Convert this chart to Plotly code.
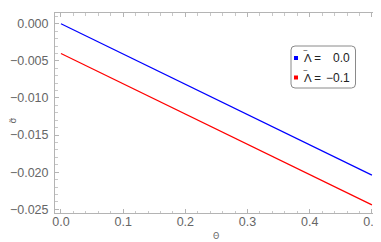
import plotly.graph_objects as go

theta = [0.0, 0.5]
sigma_l0 = [0.0, -0.0204]
sigma_lm01 = [-0.004, -0.0244]
legend_labels = ["Λ =", "Λ ="]
legend_values = ["0.0", "−0.1"]
colors = ["#0000ff", "#ff0000"]
xticks = [0, 0.1, 0.2, 0.3, 0.4, 0.5]
xticktext = ["0.0", "0.1", "0.2", "0.3", "0.4", "0.5"]
yticks = [0, -0.005, -0.01, -0.015, -0.02, -0.025]
yticktext = ["0.000", "−0.005", "−0.010", "−0.015", "−0.020", "−0.025"]

# the page body adds an 8px offset; compensate so window coords match
OFF = 8
WIN_W, WIN_H = 381, 242
W, H = WIN_W - OFF, WIN_H - OFF
PL, PR, PT, PB = 55, 380, 13, 213
ML, MR, MT, MB = PL - OFF, WIN_W - PR, PT - OFF, WIN_H - PB
PW, PH = PR - PL, PB - PT

def px(x):
    return (x - PL) / PW

def py(y):
    return (PB - y) / PH

fig = go.Figure()
for ys, c in zip([sigma_l0, sigma_lm01], colors):
    fig.add_trace(go.Scatter(x=theta, y=ys, mode="lines", showlegend=False,
                             line=dict(color=c, width=1.2)))

axis_common = dict(showline=True, linecolor="#b4b4b4", linewidth=1, mirror="ticks",
                   ticks="inside", ticklen=4, tickcolor="#b4b4b4", showgrid=False,
                   zeroline=False, automargin=False,
                   tickfont=dict(family="Liberation Sans", size=12.5, color="#666666"))

fig.update_layout(
    width=W, height=H,
    margin=dict(l=ML, r=MR, t=MT, b=MB),
    paper_bgcolor="white", plot_bgcolor="white",
    xaxis=dict(range=[-0.0096, 0.513], tickvals=xticks, ticktext=xticktext,
               ticklabelstandoff=-3,
               minor=dict(dtick=0.02, ticks="inside", ticklen=2.5, tickcolor="#c8c8c8"),
               **axis_common),
    yaxis=dict(range=[-0.0255, 0.00145], tickvals=yticks, ticktext=yticktext,
               ticklabelstandoff=3,
               minor=dict(dtick=0.001, ticks="inside", ticklen=2.5, tickcolor="#c8c8c8"),
               **axis_common),
    showlegend=False,
)

# axis titles
fig.add_annotation(x=px(216), y=py(243), xref="paper", yref="paper", text="Θ",
                   showarrow=False, font=dict(family="DejaVu Sans", size=8, color="#666666"))
fig.add_annotation(x=px(5.5), y=py(121), xref="paper", yref="paper", text="σ̃",
                   textangle=-90, showarrow=False,
                   font=dict(family="DejaVu Sans", size=9, color="#666666"))

# legend box (rounded)
x0, x1, y0, y1, r = px(291), px(355.5), py(46), py(88), 4
rx, ry = r / PW, r / PH
path = (f"M {x0+rx},{y0} L {x1-rx},{y0} Q {x1},{y0} {x1},{y0-ry} "
        f"L {x1},{y1+ry} Q {x1},{y1} {x1-rx},{y1} L {x0+rx},{y1} "
        f"Q {x0},{y1} {x0},{y1+ry} L {x0},{y0-ry} Q {x0},{y0} {x0+rx},{y0} Z")
fig.add_shape(type="path", path=path, xref="paper", yref="paper",
              line=dict(color="#8a8a8a", width=1), fillcolor="white", layer="above")

rows_y = [58, 77.5]
for lab, val, c, yy in zip(legend_labels, legend_values, colors, rows_y):
    fig.add_shape(type="rect", xref="paper", yref="paper",
                  x0=px(294), x1=px(298), y0=py(yy - 2), y1=py(yy + 2),
                  fillcolor=c, line=dict(width=0), layer="above")
    fig.add_annotation(x=px(302), y=py(yy), xref="paper", yref="paper", text=lab,
                       xanchor="left", yanchor="middle", showarrow=False,
                       font=dict(family="Liberation Sans", size=11.5, color="#222222"))
    fig.add_annotation(x=px(305.8), y=py(yy - 7), xref="paper", yref="paper", text="~",
                       xanchor="center", yanchor="middle", showarrow=False,
                       font=dict(family="Liberation Sans", size=8, color="#222222"))
    fig.add_annotation(x=px(352), y=py(yy), xref="paper", yref="paper", text=val,
                       xanchor="right", yanchor="middle", showarrow=False,
                       font=dict(family="Liberation Sans", size=12, color="#222222"))

fig.write_html("out.html")
